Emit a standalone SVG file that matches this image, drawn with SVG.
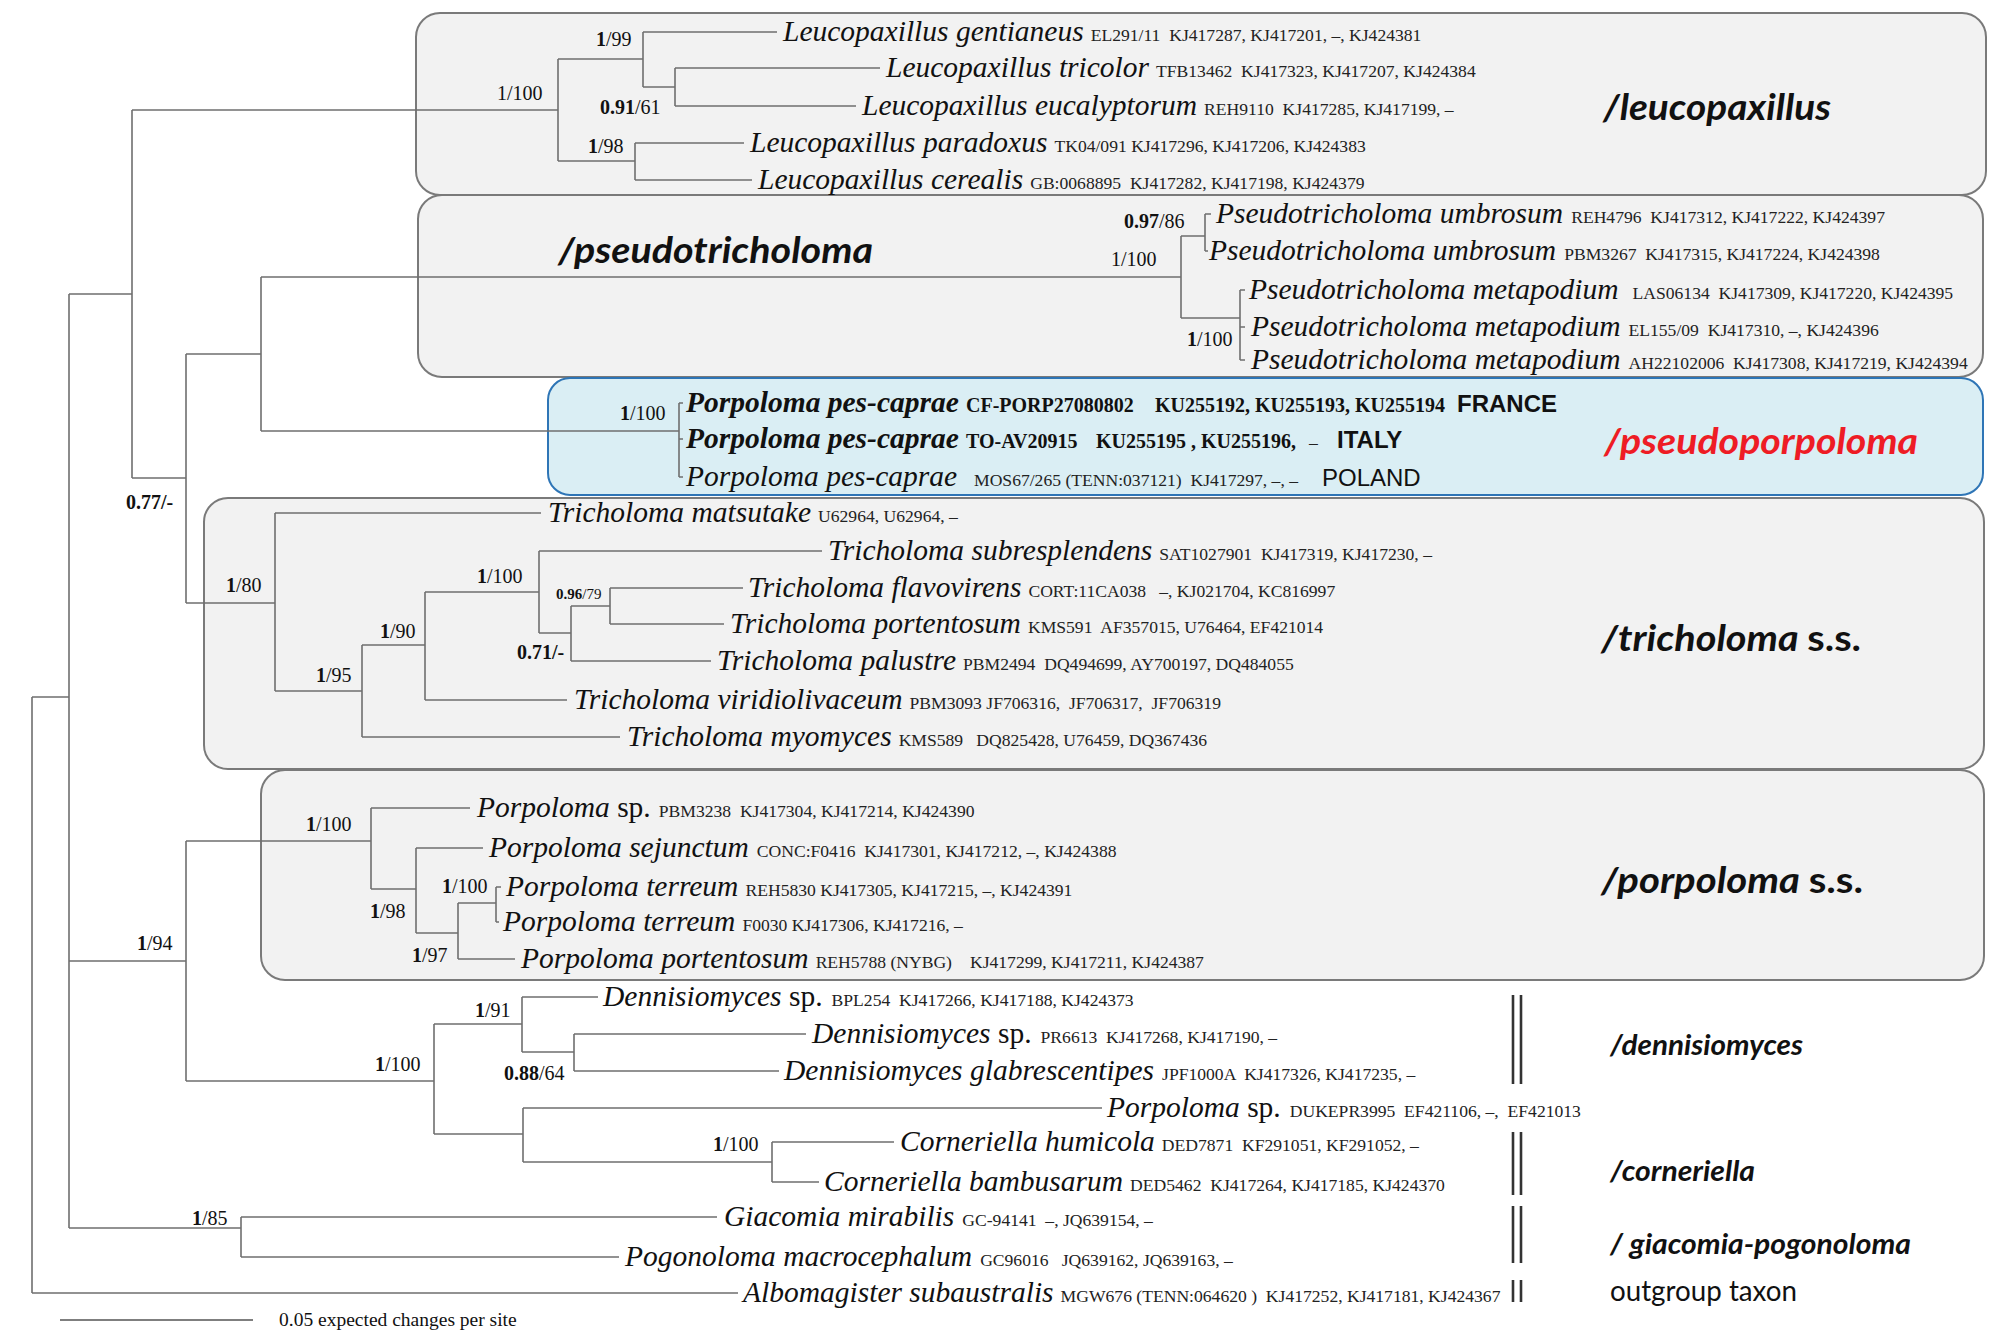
<svg xmlns="http://www.w3.org/2000/svg" width="2012" height="1342" viewBox="0 0 2012 1342" xml:space="preserve">
<style>
text{white-space:pre;}
.bx{fill:#f2f2f2;stroke:#7a7a7a;stroke-width:2;}
.bb{fill:#daeef4;stroke:#2e75b6;stroke-width:2;}
.br{fill:none;stroke:#6f6f6f;stroke-width:1.6;}
.bar{stroke:#333;stroke-width:2.6;}
.n{font-family:"Liberation Serif",serif;font-style:italic;font-size:29.5px;fill:#111;}
.nb{font-weight:bold;}
.up{font-style:normal;}
.d{font-family:"Liberation Serif",serif;font-style:normal;font-weight:normal;font-size:17.6px;fill:#222;}
.db{font-family:"Liberation Serif",serif;font-weight:bold;font-size:20px;fill:#111;}
.s{font-family:"Liberation Serif",serif;font-size:20px;fill:#111;}
.ss{font-family:"Liberation Serif",serif;font-size:15px;fill:#111;}
.b{font-weight:bold;}
.g{font-family:Lato,"Open Sans",sans-serif;font-weight:bold;font-style:italic;fill:#111;}
.gl{font-size:37px;}
.gs{font-size:28px;}
.c{font-family:"Liberation Sans",Arial,sans-serif;font-size:24px;fill:#111;}
</style>
<rect width="2012" height="1342" fill="#ffffff"/>
<g id="boxes">
<rect id="box-leucopaxillus" class="bx" x="416" y="13" width="1570" height="182" rx="24"/>
<rect id="box-pseudotricholoma" class="bx" x="418" y="195" width="1565" height="182" rx="24"/>
<rect id="box-pseudoporpoloma" class="bb" x="548" y="378" width="1435" height="117" rx="22"/>
<rect id="box-tricholoma" class="bx" x="204" y="498" width="1780" height="271" rx="24"/>
<rect id="box-porpoloma" class="bx" x="261" y="770" width="1723" height="210" rx="24"/>
</g>
<g id="connectors" class="br">
<path d="M32,697V1293M32,697H69M32,1293H738"/>
<path d="M69,294V1228M69,294H132M69,961H186M69,1228H241"/>
<path d="M132,110V478M132,110H558M132,478H186"/>
<path d="M186,354V603M186,354H261M186,603H275"/>
<path d="M261,277V431M261,277H1181M261,431H679"/>
<path d="M558,59V161M558,59H643M558,161H635"/>
<path d="M643,32V87M643,32H777M643,87H675"/>
<path d="M675,68V106M675,68H880M675,106H856"/>
<path d="M635,143V180M635,143H744M635,180H752"/>
<path d="M1181,236V318M1181,236H1205M1181,318H1240"/>
<path d="M1205,214V251M1205,214H1211M1205,251H1208"/>
<path d="M1240,290V360M1240,290H1245M1240,327H1245M1240,360H1245"/>
<path d="M679,403V477M679,403H683M679,439H683M679,477H683"/>
<path d="M275,513V691M275,513H541M275,691H362"/>
<path d="M362,645V737M362,737H620M362,645H425"/>
<path d="M425,592V700M425,700H567M425,592H539"/>
<path d="M539,551V633M539,551H822M539,633H571"/>
<path d="M571,606V661M571,661H711M571,606H610"/>
<path d="M610,588V624M610,588H743M610,624H724"/>
<path d="M186,841V1081M186,841H371M186,1081H434"/>
<path d="M371,808V889M371,808H470M371,889H416"/>
<path d="M416,848V933M416,848H483M416,933H458"/>
<path d="M458,903V959M458,959H515M458,903H496"/>
<path d="M496,887V922M496,887H501M496,922H499"/>
<path d="M434,1024V1134M434,1024H522M434,1134H523"/>
<path d="M522,997V1052M522,997H598M522,1052H574"/>
<path d="M574,1034V1071M574,1034H806M574,1071H779"/>
<path d="M523,1108V1162M523,1108H1102M523,1162H772"/>
<path d="M772,1142V1182M772,1142H894M772,1182H819"/>
<path d="M241,1217V1257M241,1217H717M241,1257H619"/>
<path d="M60,1320H253" style="stroke:#555"/>
</g>
<g id="supports">
<text class="s" x="596" y="46"><tspan class="b">1</tspan>/99</text>
<text class="s" x="497" y="100">1/100</text>
<text class="s" x="600" y="114"><tspan class="b">0.91</tspan>/61</text>
<text class="s" x="588" y="153"><tspan class="b">1</tspan>/98</text>
<text class="s" x="1124" y="228"><tspan class="b">0.97</tspan>/86</text>
<text class="s" x="1111" y="266">1/100</text>
<text class="s" x="1187" y="346"><tspan class="b">1</tspan>/100</text>
<text class="s" x="620" y="420"><tspan class="b">1</tspan>/100</text>
<text class="s b" x="126" y="509">0.77/-</text>
<text class="s" x="226" y="592"><tspan class="b">1</tspan>/80</text>
<text class="s" x="316" y="682"><tspan class="b">1</tspan>/95</text>
<text class="s" x="380" y="638"><tspan class="b">1</tspan>/90</text>
<text class="s" x="477" y="583"><tspan class="b">1</tspan>/100</text>
<text class="ss" x="556" y="599"><tspan class="b">0.96</tspan>/79</text>
<text class="s b" x="517" y="659">0.71/-</text>
<text class="s" x="306" y="831"><tspan class="b">1</tspan>/100</text>
<text class="s" x="370" y="918"><tspan class="b">1</tspan>/98</text>
<text class="s" x="442" y="893"><tspan class="b">1</tspan>/100</text>
<text class="s" x="412" y="962"><tspan class="b">1</tspan>/97</text>
<text class="s" x="137" y="950"><tspan class="b">1</tspan>/94</text>
<text class="s" x="475" y="1017"><tspan class="b">1</tspan>/91</text>
<text class="s" x="504" y="1080"><tspan class="b">0.88</tspan>/64</text>
<text class="s" x="375" y="1071"><tspan class="b">1</tspan>/100</text>
<text class="s" x="713" y="1151"><tspan class="b">1</tspan>/100</text>
<text class="s" x="192" y="1225"><tspan class="b">1</tspan>/85</text>
</g>
<g id="taxa">
<g id="t01"><text class="n" x="783" y="41">Leucopaxillus gentianeus<tspan class="d" dx="7">EL291/11  KJ417287, KJ417201, –, KJ424381</tspan></text></g>
<g id="t02"><text class="n" x="886" y="77">Leucopaxillus tricolor<tspan class="d" dx="7">TFB13462  KJ417323, KJ417207, KJ424384</tspan></text></g>
<g id="t03"><text class="n" x="862" y="115">Leucopaxillus eucalyptorum<tspan class="d" dx="7">REH9110  KJ417285, KJ417199, –</tspan></text></g>
<g id="t04"><text class="n" x="750" y="152">Leucopaxillus paradoxus<tspan class="d" dx="7">TK04/091 KJ417296, KJ417206, KJ424383</tspan></text></g>
<g id="t05"><text class="n" x="758" y="189">Leucopaxillus cerealis<tspan class="d" dx="7">GB:0068895  KJ417282, KJ417198, KJ424379</tspan></text></g>
<g id="t06"><text class="n" x="1216" y="223">Pseudotricholoma umbrosum<tspan class="d" dx="8">REH4796  KJ417312, KJ417222, KJ424397</tspan></text></g>
<g id="t07"><text class="n" x="1209" y="260">Pseudotricholoma umbrosum<tspan class="d" dx="8">PBM3267  KJ417315, KJ417224, KJ424398</tspan></text></g>
<g id="t08"><text class="n" x="1249" y="299">Pseudotricholoma metapodium<tspan class="d" dx="14">LAS06134  KJ417309, KJ417220, KJ424395</tspan></text></g>
<g id="t09"><text class="n" x="1251" y="336">Pseudotricholoma metapodium<tspan class="d" dx="8">EL155/09  KJ417310, –, KJ424396</tspan></text></g>
<g id="t10"><text class="n" x="1251" y="369">Pseudotricholoma metapodium<tspan class="d" dx="8">AH22102006  KJ417308, KJ417219, KJ424394</tspan></text></g>
<g id="t11"><text class="n nb" x="686" y="412">Porpoloma pes-caprae</text><text class="db" x="966" y="412">CF-PORP27080802</text><text class="db" x="1155" y="412">KU255192, KU255193, KU255194</text><text class="c b" x="1457" y="412">FRANCE</text></g>
<g id="t12"><text class="n nb" x="686" y="448">Porpoloma pes-caprae</text><text class="db" x="966" y="448">TO-AV20915</text><text class="db" x="1096" y="448">KU255195 , KU255196,</text><text class="d" x="1309" y="448" fill="#888">–</text><text class="c b" x="1337" y="448">ITALY</text></g>
<g id="t13"><text class="n" x="686" y="486">Porpoloma pes-caprae</text><text class="d" x="974" y="486">MOS67/265 (TENN:037121)  KJ417297, –, –</text><text class="c" x="1322" y="486">POLAND</text></g>
<g id="t14"><text class="n" x="548" y="522">Tricholoma matsutake<tspan class="d" dx="7">U62964, U62964, –</tspan></text></g>
<g id="t15"><text class="n" x="828" y="560">Tricholoma subresplendens<tspan class="d" dx="7">SAT1027901  KJ417319, KJ417230, –</tspan></text></g>
<g id="t16"><text class="n" x="748" y="597">Tricholoma flavovirens<tspan class="d" dx="7">CORT:11CA038   –, KJ021704, KC816997</tspan></text></g>
<g id="t17"><text class="n" x="730" y="633">Tricholoma portentosum<tspan class="d" dx="7">KMS591  AF357015, U76464, EF421014</tspan></text></g>
<g id="t18"><text class="n" x="717" y="670">Tricholoma palustre<tspan class="d" dx="7">PBM2494  DQ494699, AY700197, DQ484055</tspan></text></g>
<g id="t19"><text class="n" x="574" y="709">Tricholoma viridiolivaceum<tspan class="d" dx="7">PBM3093 JF706316,  JF706317,  JF706319</tspan></text></g>
<g id="t20"><text class="n" x="627" y="746">Tricholoma myomyces<tspan class="d" dx="7">KMS589   DQ825428, U76459, DQ367436</tspan></text></g>
<g id="t21"><text class="n" x="477" y="817">Porpoloma <tspan class="up">sp.</tspan><tspan class="d" dx="8">PBM3238  KJ417304, KJ417214, KJ424390</tspan></text></g>
<g id="t22"><text class="n" x="489" y="857">Porpoloma sejunctum<tspan class="d" dx="8">CONC:F0416  KJ417301, KJ417212, –, KJ424388</tspan></text></g>
<g id="t23"><text class="n" x="506" y="896">Porpoloma terreum<tspan class="d" dx="7">REH5830 KJ417305, KJ417215, –, KJ424391</tspan></text></g>
<g id="t24"><text class="n" x="503" y="931">Porpoloma terreum<tspan class="d" dx="7">F0030 KJ417306, KJ417216, –</tspan></text></g>
<g id="t25"><text class="n" x="521" y="968">Porpoloma portentosum<tspan class="d" dx="7">REH5788 (NYBG)</tspan><tspan class="d" dx="18">KJ417299, KJ417211, KJ424387</tspan></text></g>
<g id="t26"><text class="n" x="603" y="1006">Dennisiomyces <tspan class="up">sp.</tspan><tspan class="d" dx="9">BPL254  KJ417266, KJ417188, KJ424373</tspan></text></g>
<g id="t27"><text class="n" x="812" y="1043">Dennisiomyces <tspan class="up">sp.</tspan><tspan class="d" dx="9">PR6613  KJ417268, KJ417190, –</tspan></text></g>
<g id="t28"><text class="n" x="784" y="1080">Dennisiomyces glabrescentipes<tspan class="d" dx="8">JPF1000A  KJ417326, KJ417235, –</tspan></text></g>
<g id="t29"><text class="n" x="1107" y="1117">Porpoloma <tspan class="up">sp.</tspan><tspan class="d" dx="9">DUKEPR3995  EF421106, –,  EF421013</tspan></text></g>
<g id="t30"><text class="n" x="900" y="1151">Corneriella humicola<tspan class="d" dx="7">DED7871  KF291051, KF291052, –</tspan></text></g>
<g id="t31"><text class="n" x="824" y="1191">Corneriella bambusarum<tspan class="d" dx="7">DED5462  KJ417264, KJ417185, KJ424370</tspan></text></g>
<g id="t32"><text class="n" x="724" y="1226">Giacomia mirabilis<tspan class="d" dx="8">GC-94141  –, JQ639154, –</tspan></text></g>
<g id="t33"><text class="n" x="625" y="1266">Pogonoloma macrocephalum<tspan class="d" dx="8">GC96016   JQ639162, JQ639163, –</tspan></text></g>
<g id="t34"><text class="n" x="743" y="1302">Albomagister subaustralis<tspan class="d" dx="7">MGW676 (TENN:064620 )  KJ417252, KJ417181, KJ424367</tspan></text></g>
</g>
<g id="bars" class="bar">
<path d="M1513,995V1084M1521,995V1084"/>
<path d="M1513,1132V1195M1521,1132V1195"/>
<path d="M1513,1206V1263M1521,1206V1263"/>
<path d="M1513,1280V1302M1521,1280V1302"/>
</g>
<g id="group-labels">
<text class="g gl" x="1603" y="120" textLength="228" lengthAdjust="spacingAndGlyphs">/leucopaxillus</text>
<text class="g gl" x="558" y="263" textLength="315" lengthAdjust="spacingAndGlyphs">/pseudotricholoma</text>
<text class="g gl" x="1604" y="454" textLength="314" lengthAdjust="spacingAndGlyphs" style="fill:#ee1c25">/pseudoporpoloma</text>
<text class="g gl" x="1601" y="651" textLength="260" lengthAdjust="spacingAndGlyphs">/tricholoma <tspan style="font-style:normal">s.s.</tspan></text>
<text class="g gl" x="1601" y="893" textLength="262" lengthAdjust="spacingAndGlyphs">/porpoloma <tspan style="font-style:normal">s.s.</tspan></text>
<text class="g gs" x="1610" y="1055" textLength="193" lengthAdjust="spacingAndGlyphs">/dennisiomyces</text>
<text class="g gs" x="1610" y="1181" textLength="145" lengthAdjust="spacingAndGlyphs">/corneriella</text>
<text class="g gs" x="1610" y="1254" textLength="301" lengthAdjust="spacingAndGlyphs">/ giacomia-pogonoloma</text>
<text class="gs" x="1610" y="1301" textLength="187" lengthAdjust="spacingAndGlyphs" style="font-family:Lato,'Open Sans',sans-serif;fill:#111">outgroup taxon</text>
</g>
<text class="s" x="279" y="1326" style="font-size:19.5px">0.05 expected changes per site</text>
</svg>
